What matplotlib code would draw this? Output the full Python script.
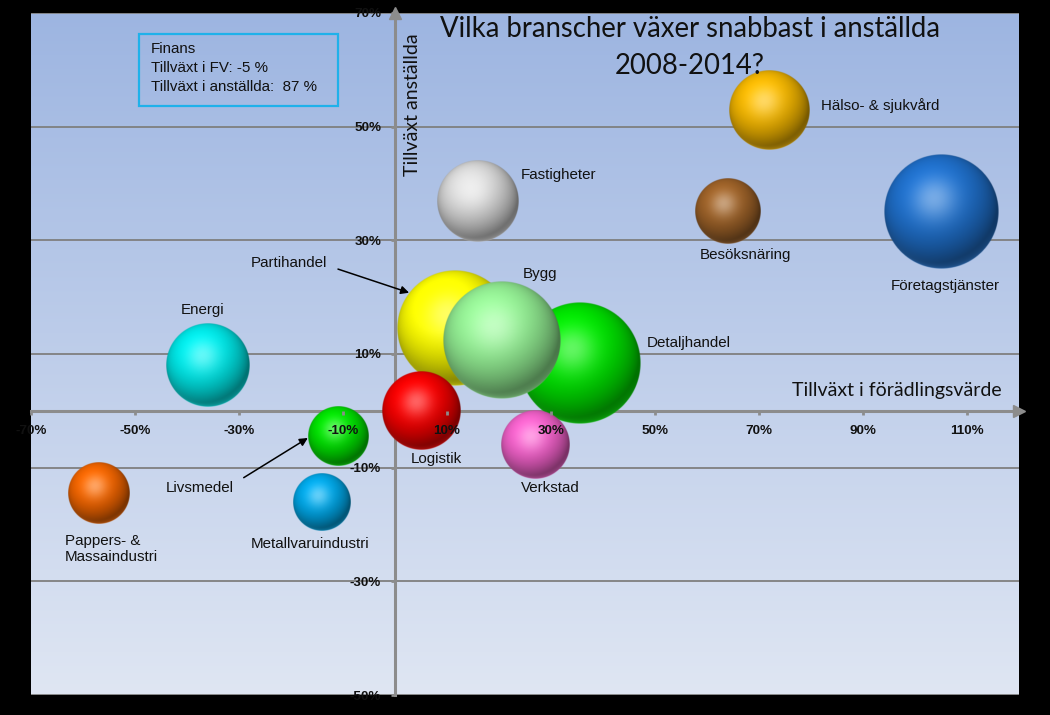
import numpy as np
import matplotlib.pyplot as plt
from matplotlib.colors import to_rgb
from matplotlib.patches import Rectangle

plt.rcParams["font.family"] = ["Liberation Sans", "DejaVu Sans"]

# Data: tillväxt i förädlingsvärde (x, %), tillväxt i anställda (y, %), bubbelstorlek
branscher = ["Företagstjänster", "Hälso- & sjukvård", "Besöksnäring", "Fastigheter",
             "Partihandel", "Detaljhandel", "Bygg", "Energi", "Logistik", "Verkstad",
             "Livsmedel", "Metallvaruindustri", "Pappers- &\nMassaindustri"]
tillvaxt_fv = [105, 72, 64, 16, 11.5, 35.5, 20.5, -36, 5, 27, -11, -14, -57]
tillvaxt_anstallda = [35, 53, 35, 37, 14.5, 8.5, 12.5, 8, 0, -6, -4.5, -16, -14.5]
storlek = [32.5, 16, 10.6, 16.8, 33.6, 37.2, 34.8, 17.6, 15.6, 11.6, 9, 8.4, 9.6]
farger = ["#1f6fca", "#f2b500", "#9c6128", "#d6d6d6", "#ffff00", "#00e400",
          "#93ee93", "#00e6e6", "#f40000", "#f060c8", "#00e000", "#00a6e6", "#f06400"]

# Finans ligger utanför diagrammet
finans_fv = -5
finans_anstallda = 87

x_ticks = list(range(-70, 111, 20))
y_ticks = list(range(-50, 71, 20))

# etikettplacering: (dx, dy) i pixlar från bubblans mitt, justering
etiketter = {
    "Företagstjänster": (4, -74, "center"),
    "Hälso- & sjukvård": (52, 4, "left"),
    "Besöksnäring": (18, -43, "center"),
    "Fastigheter": (43, 26, "left"),
    "Detaljhandel": (67, 20, "left"),
    "Bygg": (38, 66, "center"),
    "Energi": (-5, 55, "center"),
    "Logistik": (15, -48, "center"),
    "Verkstad": (15, -43, "center"),
    "Metallvaruindustri": (-12, -42, "center"),
    "Pappers- &\nMassaindustri": (-34, -56, "left"),
}
# etiketter med pil: vinkel till bubblans kant, (dx, dy) från kanten, relpos
pilar = {
    "Partihandel": (142, (-120, 30), (1.0, 0.3)),
    "Livsmedel": (183, (-108, -50), (1.0, 0.8)),
}

GRA = "#8c8c8c"


def kula(farg, n=256):
    bas = np.array(to_rgb(farg))
    t = np.linspace(-1, 1, n)
    u, v = np.meshgrid(t, t)
    rr = np.sqrt(u**2 + v**2)
    z = np.sqrt(np.clip(1 - rr**2, 0, 1))
    ljus = np.array([-0.25, 0.45, 0.86])
    ljus /= np.linalg.norm(ljus)
    diffus = np.clip(u * ljus[0] + v * ljus[1] + z * ljus[2], 0, 1)
    halv = ljus + np.array([0, 0, 1.0])
    halv /= np.linalg.norm(halv)
    glans = np.clip(u * halv[0] + v * halv[1] + z * halv[2], 0, 1) ** 14
    reflex = np.clip(-v - 0.2, 0, 1) * np.clip(1 - z, 0, 1) ** 3
    skugga = 0.5 + 0.58 * diffus
    rgb = np.clip(bas * skugga[..., None], 0, 1)
    rgb = rgb + (1 - rgb) * (0.38 * glans)[..., None]
    rgb = rgb + (reflex * 0.9)[..., None] * (bas * 0.85 + 0.15 - rgb)
    rgb = np.clip(rgb, 0, 1)
    alfa = np.clip((1 - rr) * n / 2, 0, 1)
    return np.dstack([rgb, alfa])


fig = plt.figure(figsize=(10.5, 7.15), dpi=100, facecolor="black")
ax = fig.add_axes([31 / 1050, 20 / 715, 988 / 1050, 682 / 715])
x_min, x_max = -70, 120
y_min, y_max = -50, 70
ax.set_xlim(x_min, x_max)
ax.set_ylim(y_min, y_max)

# bakgrund med gradient
topp = np.array(to_rgb("#9db5e1"))
botten = np.array(to_rgb("#dfe6f3"))
g = np.linspace(0, 1, 256)[:, None, None]
ax.imshow(botten + (topp - botten) * g, extent=[0, 1, 0, 1], transform=ax.transAxes,
          origin="lower", aspect="auto", zorder=0)

for yv in y_ticks:
    ax.axhline(yv, color="#7f7f7f", lw=1.3, zorder=1)

# pixlar per dataenhet
p0 = ax.transData.transform((0, 0))
px_x = ax.transData.transform((1, 0))[0] - p0[0]
px_y = ax.transData.transform((0, 1))[1] - p0[1]

for i, (namn, x, y, s, c) in enumerate(zip(branscher, tillvaxt_fv, tillvaxt_anstallda, storlek, farger)):
    r = 10 * np.sqrt(s)
    rx, ry = r / px_x, r / px_y
    ax.imshow(kula(c), extent=[x - rx, x + rx, y - ry, y + ry], origin="lower",
              aspect="auto", interpolation="bilinear", zorder=3 + i)
    if namn in etiketter:
        dx, dy, ha = etiketter[namn]
        ax.annotate(namn, xy=(x, y), xytext=(dx, dy), textcoords="offset pixels",
                    ha=ha, va="center", fontsize=10.9, color="#111111", zorder=30)
    else:
        vinkel, (dx, dy), relpos = pilar[namn]
        a = np.deg2rad(vinkel)
        kant = (x + rx * np.cos(a), y + ry * np.sin(a))
        ax.annotate(namn, xy=kant, xytext=(dx, dy), textcoords="offset pixels",
                    ha="center", va="center", fontsize=10.9, color="#111111", zorder=30,
                    arrowprops=dict(arrowstyle="-|>", color="black", lw=1.1,
                                    relpos=relpos, shrinkA=6, shrinkB=0,
                                    mutation_scale=12))

ax.set_xlim(x_min, x_max)
ax.set_ylim(y_min, y_max)

# axlar genom origo
for s in ["top", "right"]:
    ax.spines[s].set_visible(False)
for s in ["left", "bottom"]:
    ax.spines[s].set_position(("data", 0))
    ax.spines[s].set_color(GRA)
    ax.spines[s].set_linewidth(2.2)
    ax.spines[s].set_zorder(2)
ax.plot(1, 0, ">", color=GRA, ms=9, transform=ax.get_yaxis_transform(), clip_on=False, zorder=2)
ax.plot(0, 1, "^", color=GRA, ms=9, transform=ax.get_xaxis_transform(), clip_on=False, zorder=2)

ax.set_xticks(x_ticks)
ax.set_xticklabels([f"{t}%" for t in x_ticks])
ax.set_yticks(y_ticks)
ax.set_yticklabels([f"{t}%" for t in y_ticks])
ax.tick_params(axis="both", direction="out", length=3, width=2, color=GRA,
               labelsize=9.7, labelcolor="#111111", pad=7)
for lbl in ax.get_xticklabels() + ax.get_yticklabels():
    lbl.set_fontweight("bold")
ax.xaxis.set_zorder(40)
ax.yaxis.set_zorder(40)

# axeltitlar
titel_font = ["Lato", "DejaVu Sans"]
ax.annotate("Tillväxt anställda", xy=(0, 1), xycoords=("data", "axes fraction"),
            xytext=(17, -92), textcoords="offset pixels", rotation=90,
            ha="center", va="center", fontsize=14, family=titel_font, color="#111111")
ax.annotate("Tillväxt i förädlingsvärde", xy=(1, 0), xycoords=("axes fraction", "data"),
            xytext=(-17, 20), textcoords="offset pixels",
            ha="right", va="center", fontsize=14, family=titel_font, color="#111111")

# rubrik
fig.text(690 / 1050, 1 - 37 / 715, "Vilka branscher växer snabbast i anställda",
         ha="center", va="baseline", fontsize=19.8, family=titel_font, color="#111111")
fig.text(690 / 1050, 1 - 74 / 715, "2008-2014?",
         ha="center", va="baseline", fontsize=19.8, family=titel_font, color="#111111")

# ruta för Finans
ax.add_patch(Rectangle((0.1093, 0.8636), 0.2014, 0.1056, transform=ax.transAxes,
                       fill=False, edgecolor="#1fb1ea", lw=1.6, zorder=30))
finans_rader = ["Finans", f"Tillväxt i FV: {finans_fv} %", f"Tillväxt i anställda:  {finans_anstallda} %"]
for i, rad in enumerate(finans_rader):
    ax.text(0.1215, 0.947 - i * 0.0278, rad, transform=ax.transAxes,
            ha="left", va="center", fontsize=10.9, color="#111111", zorder=30)

fig.savefig("out.png", dpi=100, facecolor="black")
